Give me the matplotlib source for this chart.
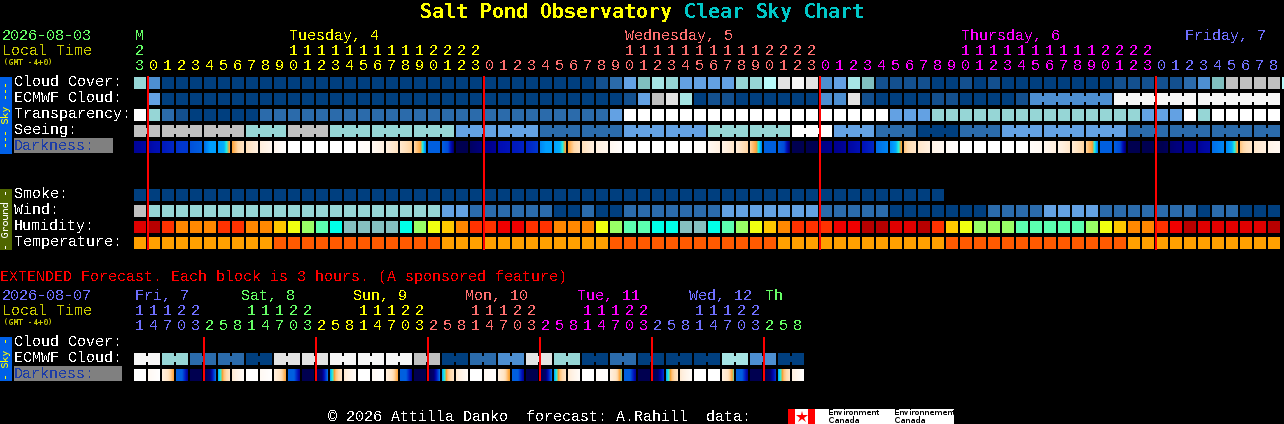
import numpy as np
import matplotlib
matplotlib.use('Agg')
import matplotlib.pyplot as plt
from matplotlib.colors import LinearSegmentedColormap

plt.rcParams['text.hinting'] = 'native'
plt.rcParams['text.hinting_factor'] = 1

# -1 means no forecast for that block
sky_colours = ['#003F7F', '#13508F', '#2B6BAB', '#4D8FD1', '#63A1E3', '#80BFBF', '#96D6D6',
               '#A6E5E5', '#B8FAFA', '#C0C0C0', '#E3E3E3', '#F6F6F6', '#FFFFFF']

cloud = [6, 3] + [0] * 31 + [1, 2, 4, 5, 7, 6, 4, 4, 4, 4, 6, 6, 8, 10, 11, 10, 3, 4, 7, 5, 1, 1, 1, 1, 0, 0,
                             1, 0, 1, 0, 0, 0, 0, 0, 0, 0, 0, 1, 1, 1, 1, 1, 2, 3, 5, 9, 9, 9, 9, 8]
ecmwf = [-1, 4] + [0] * 33 + [1, 4, 9, 10, 7, 0, 1, 1, 0, 0, 0, 0, 0, 0, 3, 3, 10, 1, 0, 0, 0, 0, 1, 1, 0, 0,
                              0, 0, 1] + [3] * 6 + [11] * 12
transparency = [12, 6, 2, 1, 0, 0, 0, 0, 0] + [2] * 25 + [4] + [12] * 19 + [4, 4, 4] + [6] * 15 + \
               [4, 4, 4, 12, 6, 12, 12, 12, 12, 12]
seeing = [9, 9, 9, 9, 9, 9, 9, 9, 6, 6, 6, 9, 9, 9, 6, 6, 6, 6, 6, 6, 6, 6, 6, 4, 4, 4, 4, 4, 4, 2, 2, 2, 2, 2, 2,
          4, 4, 4, 4, 4, 4, 6, 6, 6, 6, 6, 6, 12, 12, 12, 4, 4, 4, 2, 2, 2, 0, 0, 0, 2, 2, 2, 4, 4, 4, 4, 4, 4,
          4, 4, 4, 2, 2, 2, 2, 2, 2, 2, 2, 2, 2, 2]
seeing_groups = [2] + [3] * 26 + [2]
ecmwf_groups = [1] * 64 + [6, 6, 6]

smoke = [0] * 58
wind = [9] + [6] * 21 + [4, 4, 2, 2, 2, 2, 2, 2, 0, 0, 2, 0, 0, 2, 2, 2, 2, 2, 2, 2, 4, 4, 4, 4, 4, 4, 4, 2, 2, 2,
                         2, 2, 0, 0, 0, 0, 0, 0, 0, 2, 2, 2, 2, 4, 4, 4, 4, 2, 2, 2, 2, 2, 2, 2, 0, 2, 2, 0, 0, 0]

humidity_colours = ['#B80000', '#E00000', '#F00000', '#FF3200', '#FF8800', '#FFC800', '#F0FF10',
                    '#99FF66', '#5CFFB0', '#00FFE8', '#85BFBF']
humidity = [1, 0, 3, 4, 4, 4, 3, 3, 4, 4, 5, 6, 7, 8, 9, 10, 10, 10, 10, 9, 7, 6, 5, 4, 3, 3, 2, 2, 3, 3, 4, 4, 4,
            6, 7, 8, 8, 9, 9, 10, 10, 9, 8, 7, 6, 5, 4, 3, 3, 3, 2, 2, 0, 0, 1, 1, 0, 3, 5, 6, 7, 7, 7, 8, 8, 8,
            8, 8, 7, 6, 5, 4, 4, 3, 2, 0, 1, 1, 1, 1, 1, 0]

temperature_colours = ['#FFA000', '#FF5A00']
temperature = [0] * 10 + [1] * 12 + [0] * 12 + [1] * 12 + [0] * 12 + [1] * 13 + [0] * 11

# darkness runs 0 (deep night) to 10 (full daylight): start, middle, end of each block
darkness_stops = ['#000050', '#000090', '#0010B8', '#0038D0', '#0060E0', '#00A0FF',
                  '#20F0E0', '#FFA030', '#FFD8A8', '#FFF0E0', '#FFFFFF']
darkness = [(1.2, 1.3, 1.5), (1.5, 1.8, 2), (2.2, 2.4, 2.6), (2.8, 3, 3), (3.6, 3.8, 4), (4.2, 5, 5),
            (5, 5.2, 7.2), (7, 8, 8.5), (8.3, 8.7, 9), (8.9, 9.2, 9.5), (9.4, 9.7, 9.9)] + [(10, 10, 10)] * 5 + \
           [(9.9, 9.8, 9.8), (9.6, 9.3, 9), (9, 8.7, 8.4), (8.7, 8.3, 7.8), (8, 7.2, 4.5), (4, 4, 4),
            (4, 3.5, 0.3), (0, 0, 0), (0.3, 0.5, 0.7), (0.9, 1, 1.2), (1.8, 2, 2.1), (2.2, 2.3, 2.5),
            (2.5, 2.7, 3), (4.6, 5, 5), (5, 5.2, 7.2), (7, 8, 8.5), (8.3, 8.7, 9), (9, 9.2, 9.4),
            (9.5, 9.7, 9.9)] + [(10, 10, 10)] * 5 + \
           [(9.9, 9.9, 9.9), (9.6, 9.3, 9), (9.2, 8.9, 8.6), (8.9, 8.4, 7.9), (7.9, 7.1, 4.5), (4, 4, 4),
            (4, 3.5, 0.3), (0, 0, 0), (0, 0, 0), (0.8, 0.9, 1), (1, 1.1, 1.3), (1.4, 1.7, 2), (2, 2.3, 2.6),
            (4.2, 4.4, 4.6), (4.6, 5.2, 7.2), (7.6, 8.3, 8.6), (8.6, 8.8, 9), (9.2, 9.4, 9.5),
            (9.7, 9.8, 9.9)] + [(10, 10, 10)] * 5 + \
           [(9.8, 9.7, 9.6), (9.5, 9.2, 9), (9.2, 8.9, 8.6), (8.8, 8.4, 7.9), (7.9, 7.1, 4.5), (4, 4, 4),
            (4, 3.5, 0.3), (0, 0, 0), (0, 0, 0), (0, 0, 0.2), (0.5, 0.7, 0.8), (1, 1, 1), (1.2, 1.5, 1.7),
            (4.2, 4.4, 4.6), (4.6, 5.2, 7.2), (7.6, 8.3, 8.6), (8.6, 8.8, 9), (9.2, 9.4, 9.5)]

hour_labels = [23] + list(range(24)) * 3 + list(range(9))
hour_days = [0] + [1] * 24 + [2] * 24 + [3] * 24 + [4] * 9
day_colours = ['#66FF66', '#FFFF00', '#FF7070', '#FF00FF', '#7070FF']
day_names = ['M', 'Tuesday, 4', 'Wednesday, 5', 'Thursday, 6', 'Friday, 7']
day_label_blocks = [0, 11, 35, 59, 75]

ext_ecmwf = [11, 11, 6, 6, 2, 2, 2, 2, 0, 0, 10, 10, 10, 10, 11, 11, 11, 11, 11, 11, 9, 9, 0, 0, 2, 2, 3, 3, 10, 10,
             6, 6, 0, 0, 2, 2, 0, 0, 0, 0, 0, 0, 7, 7, 3, 3, 0, 0]
ext_groups = [2] * 24
ext_darkness = [(10, 10, 10), (9.6, 9.8, 10), (9, 8.5, 7), (4, 4, 1), (0, 0, 0), (0, 0.5, 4.5),
                (5, 7.6, 8.6), (8.7, 9.3, 9.8), (10, 10, 10), (9.6, 9.8, 10), (9, 8.5, 7), (4, 4, 1),
                (0, 0, 0), (0, 0.5, 4.5), (5, 7.6, 8.6), (8.7, 9.3, 9.8), (10, 10, 10), (9.6, 9.8, 10),
                (9, 8.5, 7), (4, 4, 1), (0, 0, 0), (0, 0.5, 4.5), (5, 7.6, 8.6), (8.7, 9.3, 9.8),
                (10, 10, 10), (9.6, 9.8, 10), (9, 8.5, 6.8), (4, 4, 1), (0, 0, 0), (0, 0.5, 4.5),
                (5, 7.6, 8.6), (8.7, 9.3, 9.8), (10, 10, 10), (9.8, 9.9, 10), (9, 8.5, 6.3), (4, 4, 1),
                (0, 0, 0), (0, 0.3, 3), (5, 7.6, 8.6), (8.7, 9.3, 9.8), (10, 10, 10), (10, 10, 10),
                (9, 8.5, 6.3), (4, 4, 1), (0, 0, 0), (0, 0.3, 3), (5, 7.6, 8.6), (9, 9.5, 10)]
ext_hour_labels = [11, 14, 17, 20, 23] + [2, 5, 8, 11, 14, 17, 20, 23] * 5 + [2, 5, 8]
ext_hour_days = [4] * 5 + [0] * 8 + [1] * 8 + [2] * 8 + [3] * 8 + [4] * 8 + [0] * 3
ext_day_names = ['Fri, 7', 'Sat, 8', 'Sun, 9', 'Mon, 10', 'Tue, 11', 'Wed, 12', 'Th']
ext_day_x = [135, 241, 353, 465, 577, 689, 765]
ext_day_cols = [4, 0, 1, 2, 3, 4, 0]

BLOCK_X = 134
MONO = 'Liberation Mono'

fig = plt.figure(figsize=(12.84, 4.24), dpi=100, facecolor='black')
ax = fig.add_axes([0, 0, 1, 1])
ax.set_facecolor('black')
ax.axis('off')


def txt(x, y, s, color='white', px=15, **kw):
    kw.setdefault('family', MONO)
    kw.setdefault('antialiased', False)
    ax.text(x, y, s, color=color, fontsize=px * 0.72, va='baseline', ha='left', **kw)


def blocks(values, colours, top, groups=None):
    xs = BLOCK_X + 14 * np.arange(len(values))
    for x, v in zip(xs, values):
        if v >= 0:
            ax.bar(x, 12, width=12, bottom=top, align='edge', color=colours[v], linewidth=0, antialiased=False)
    if groups:
        # joined blocks get a short neck across the gap
        start = 0
        for n in groups:
            for i in range(start, start + n - 1):
                ax.bar(xs[i] + 12, 6, width=2, bottom=top + 3, align='edge', color=colours[values[i]],
                       linewidth=0, antialiased=False)
            start += n


def dark_row(values, top):
    for i, triple in enumerate(values):
        x = BLOCK_X + 14 * i
        row = np.interp(np.arange(12) + 0.5, [0, 6, 12], triple).reshape(1, -1)
        ax.imshow(row, extent=(x, x + 12, top + 12, top), cmap=dark_cmap, vmin=0, vmax=10,
                  aspect='auto', interpolation='nearest')


def side_bar(top, bottom, colour, label, text_colour):
    ax.bar(0, bottom - top, width=12, bottom=top, align='edge', color=colour, linewidth=0, antialiased=False)
    ax.text(6, (top + bottom) / 2, label, color=text_colour, rotation=90, ha='center', va='center',
            family='DejaVu Sans Mono', fontsize=9.7 * 0.72)


def hours(labels, days, baseline):
    for i, (h, d) in enumerate(zip(labels, days)):
        x = BLOCK_X + 14 * i + 1
        txt(x, baseline, str(h % 10), day_colours[d])
        if h >= 10:
            txt(x, baseline - 15, str(h // 10), day_colours[d])


def red_lines(xs, top, bottom):
    ax.bar(np.array(xs) - 1, bottom - top, width=2, bottom=top, align='edge', color='#FF0000',
           linewidth=0, antialiased=False, zorder=5)


dark_cmap = LinearSegmentedColormap.from_list('darkness', [(i / 10, c) for i, c in enumerate(darkness_stops)], N=512)

# title
txt(420, 18, 'Salt Pond Observatory', '#FFFF00', px=20, family='DejaVu Sans Mono', fontweight='bold')
txt(684, 18, 'Clear Sky Chart', '#00C8C8', px=20, family='DejaVu Sans Mono', fontweight='bold')

# main chart header
txt(2, 40, '2026-08-03', day_colours[0])
txt(2, 55, 'Local Time', '#C8C800')
txt(3, 65, '(GMT -4+0)', '#C8C800', px=7.8, family='DejaVu Sans Mono', antialiased=True)
for name, col, b in zip(day_names, day_colours, day_label_blocks):
    txt(BLOCK_X + 14 * b + 1, 40, name, col)
txt(135, 55, '2', day_colours[0])
hours(hour_labels, hour_days, 70)

# main chart rows
blocks(cloud, sky_colours, 77)
blocks(ecmwf, sky_colours, 93, ecmwf_groups)
blocks(transparency, sky_colours, 109)
blocks(seeing, sky_colours, 125, seeing_groups)
dark_row(darkness, 141)
blocks(smoke, sky_colours, 189)
blocks(wind, sky_colours, 205)
blocks(humidity, humidity_colours, 221)
blocks(temperature, temperature_colours, 237)

for y, s in zip([86, 102, 118, 134], ['Cloud Cover:', 'ECMWF Cloud:', 'Transparency:', 'Seeing:']):
    txt(14, y, s)
ax.bar(14, 15, width=99, bottom=138, align='edge', color='#808080', linewidth=0, antialiased=False)
txt(14, 150, 'Darkness:', '#1C3CA8')
for y, s in zip([198, 214, 230, 246], ['Smoke:', 'Wind:', 'Humidity:', 'Temperature:']):
    txt(14, y, s)

side_bar(77, 154, '#0060E8', '--- Sky ---', '#FFFF00')
side_bar(189, 250, '#4F6600', '- Ground -', 'white')

red_lines([148, 484, 820, 1156], 76, 250)

# extended forecast
txt(0, 281, 'EXTENDED Forecast. Each block is 3 hours. (A sponsored feature)', '#FF0000')
txt(2, 300, '2026-08-07', day_colours[4])
txt(2, 315, 'Local Time', '#C8C800')
txt(3, 325, '(GMT -4+0)', '#C8C800', px=7.8, family='DejaVu Sans Mono', antialiased=True)
for x, name, c in zip(ext_day_x, ext_day_names, ext_day_cols):
    txt(x, 300, name, day_colours[c])
hours(ext_hour_labels, ext_hour_days, 330)

blocks(ext_ecmwf, sky_colours, 353, ext_groups)
dark_row(ext_darkness, 369)

txt(14, 346, 'Cloud Cover:')
txt(14, 362, 'ECMWF Cloud:')
ax.bar(14, 15, width=108, bottom=366, align='edge', color='#808080', linewidth=0, antialiased=False)
txt(14, 378, 'Darkness:', '#1C3CA8')
side_bar(337, 381, '#0060E8', '- Sky -', '#FFFF00')

red_lines([204, 316, 428, 540, 652, 764], 337, 381)

# footer and data credit
txt(328, 421, '\u00a9 2026 Attilla Danko  forecast: A.Rahill  data:')
ax.bar(788, 15, width=166, bottom=409, align='edge', color='white', linewidth=0, antialiased=False)
ax.bar([788, 808], 15, width=7, bottom=409, align='edge', color='#FF0000', linewidth=0, antialiased=False)
ax.plot(801.5, 416.5, marker='*', markersize=9, color='#FF0000', markeredgewidth=0)
for x, word in [(828, 'Environment'), (894, 'Environnement')]:
    ax.text(x, 415, word, color='black', fontsize=6, family='DejaVu Sans', va='baseline', antialiased=True)
    ax.text(x, 423, 'Canada', color='black', fontsize=6, family='DejaVu Sans', va='baseline', antialiased=True)

ax.set_xlim(0, 1284)
ax.set_ylim(424, 0)

fig.savefig('out.png', dpi=100, facecolor='black')
